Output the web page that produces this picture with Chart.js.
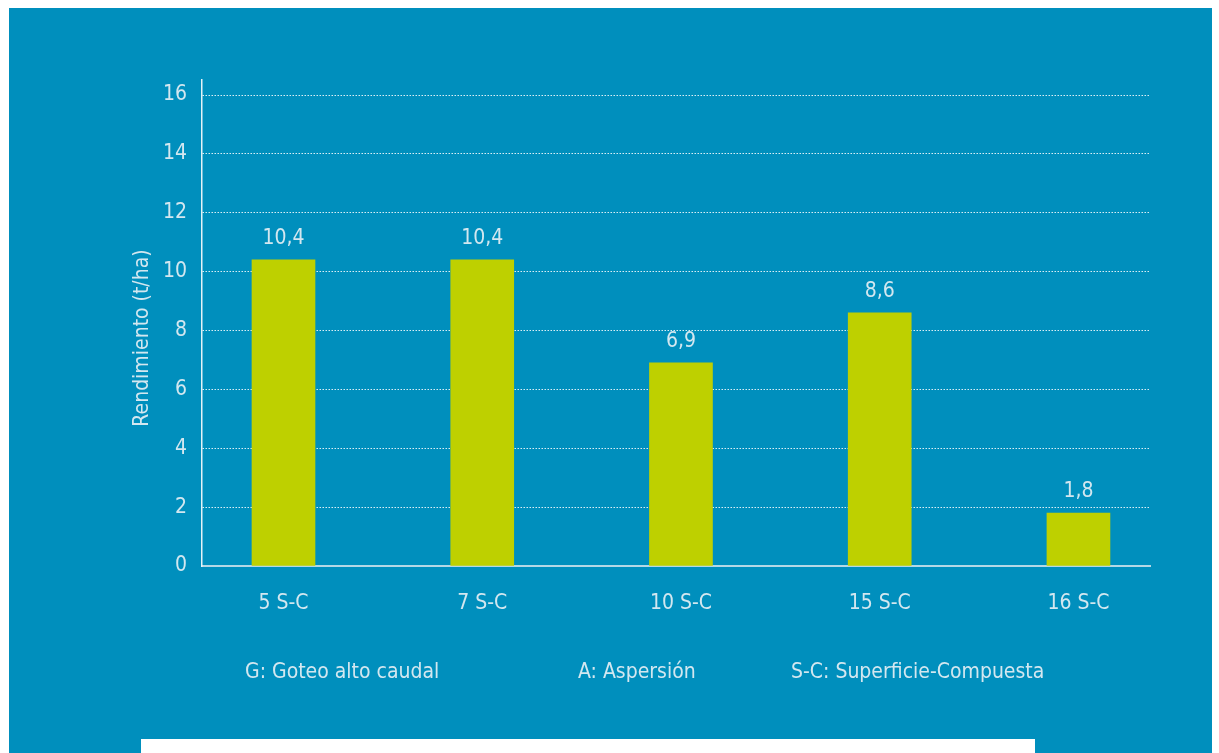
<!DOCTYPE html>
<html>
<head>
<meta charset="utf-8">
<script src="https://cdn.jsdelivr.net/npm/chart.js@4/dist/chart.umd.min.js"></script>
<style>
  html, body { margin: 0; padding: 0; background: #ffffff; }
  #panel { position: absolute; left: 9px; top: 8px; width: 1203px; height: 745px; background: #008fbd; }
  #strip { position: absolute; left: 141px; top: 739px; width: 894px; height: 14px; background: #ffffff; }
  #chart { position: absolute; left: 0; top: 0; }
</style>
</head>
<body>
<div id="panel"></div>
<div id="strip"></div>
<canvas id="chart" width="1219" height="753"></canvas>
<script>
// Datos
const categories = ["5 S-C", "7 S-C", "10 S-C", "15 S-C", "16 S-C"];
const rendimiento = [10.4, 10.4, 6.9, 8.6, 1.8];
const yTicks = [0, 2, 4, 6, 8, 10, 12, 14, 16];
const yTitle = "Rendimiento (t/ha)";
const notes = ["G: Goteo alto caudal", "A: Aspersión", "S-C: Superficie-Compuesta"];

const FONT = "'DejaVu Sans Condensed', 'DejaVu Sans', sans-serif";
const SIZE = 21;
const TEXT = "rgba(222, 236, 242, 0.95)";

// Etiquetas de valor sobre cada barra (con coma decimal)
const valueLabels = {
  id: "valueLabels",
  afterDatasetsDraw(chart) {
    const ctx = chart.ctx;
    const meta = chart.getDatasetMeta(0);
    ctx.save();
    ctx.font = SIZE + "px " + FONT;
    ctx.fillStyle = TEXT;
    ctx.textAlign = "center";
    ctx.textBaseline = "alphabetic";
    meta.data.forEach((bar, i) => {
      ctx.fillText(String(rendimiento[i]).replace(".", ","), bar.x, bar.y - 16);
    });
    ctx.restore();
  },
};

// Título del eje Y y notas al pie
const extraText = {
  id: "extraText",
  afterDraw(chart) {
    const ctx = chart.ctx;
    ctx.save();
    ctx.font = SIZE + "px " + FONT;
    ctx.fillStyle = TEXT;
    ctx.textBaseline = "middle";
    ctx.translate(143, 338);
    ctx.rotate(-Math.PI / 2);
    ctx.textAlign = "center";
    ctx.fillText(yTitle, 0, 0);
    ctx.restore();

    ctx.save();
    ctx.font = SIZE + "px " + FONT;
    ctx.fillStyle = TEXT;
    ctx.textBaseline = "middle";
    ctx.textAlign = "left";
    const xs = [245, 578, 791];
    notes.forEach((t, i) => ctx.fillText(t, xs[i], 673));
    ctx.restore();
  },
};

const context = document.getElementById("chart").getContext("2d");
const chart = new Chart(context, {
  type: "bar",
  data: {
    datasets: [
      {
        data: rendimiento.map((v, i) => ({ x: i, y: v })),
        backgroundColor: "#bed000",
        barThickness: 63,
        borderWidth: 0,
      },
    ],
  },
  options: {
    responsive: false,
    animation: false,
    layout: { padding: { left: 126, top: 80, right: 69, bottom: 127 } },
    plugins: { legend: { display: false }, tooltip: { enabled: false } },
    scales: {
      x: {
        type: "linear",
        offset: false,
        min: -0.41,
        max: 4.36,
        afterBuildTicks: (axis) => {
          axis.ticks = categories.map((c, i) => ({ value: i }));
        },
        afterFit: (axis) => {
          axis.height = 60;
        },
        ticks: {
          color: TEXT,
          font: { family: FONT, size: SIZE },
          padding: 25,
          callback: (v) => categories[v],
        },
        grid: { display: false, drawTicks: false },
        border: { color: "rgba(190, 220, 232, 0.95)", width: 2 },
      },
      y: {
        min: 0,
        max: 16.51,
        afterBuildTicks: (axis) => {
          axis.ticks = yTicks.map((v) => ({ value: v }));
        },
        afterFit: (axis) => {
          axis.width = 76;
        },
        ticks: {
          color: TEXT,
          font: { family: FONT, size: SIZE },
          padding: 15,
        },
        grid: {
          color: (c) => (c.tick && c.tick.value === 0 ? "rgba(0,0,0,0)" : "rgba(255, 255, 255, 0.85)"),
          lineWidth: 1,
          drawTicks: false,
        },
        border: { color: "rgba(240, 248, 250, 0.95)", width: 1.5, dash: [1.5, 1.5] },
      },
    },
  },
  plugins: [valueLabels, extraText],
});
</script>
</body>
</html>
